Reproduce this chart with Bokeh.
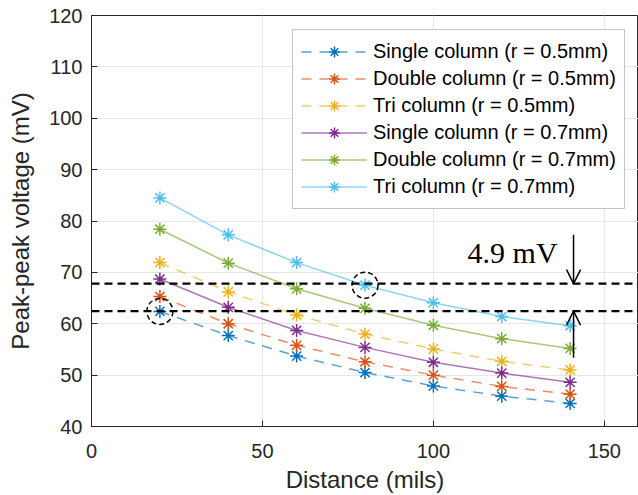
from bokeh.plotting import figure
from bokeh.models import (Legend, LegendItem, Span, Arrow, OpenHead, Label,
                          FixedTicker, Range1d)
from bokeh.embed import file_html
from bokeh.resources import INLINE

# ---- data ----
distance = [20, 40, 60, 80, 100, 120, 140]
single_05 = [62.4, 57.7, 53.7, 50.5, 47.9, 45.9, 44.5]
double_05 = [65.3, 60.0, 55.8, 52.6, 50.0, 47.8, 46.3]
tri_05 = [71.9, 66.2, 61.7, 58.0, 55.1, 52.7, 51.0]
single_07 = [68.7, 63.2, 58.7, 55.4, 52.5, 50.4, 48.6]
double_07 = [78.4, 71.8, 66.8, 63.0, 59.7, 57.1, 55.2]
tri_07 = [84.5, 77.3, 71.9, 67.5, 64.1, 61.4, 59.6]

labels = ["Single column (r = 0.5mm)", "Double column (r = 0.5mm)",
          "Tri column (r = 0.5mm)", "Single column (r = 0.7mm)",
          "Double column (r = 0.7mm)", "Tri column (r = 0.7mm)"]
series = [single_05, double_05, tri_05, single_07, double_07, tri_07]
colors = ["#0072BD", "#D95319", "#EDB120", "#7E2F8E", "#77AC30", "#4DBEEE"]
dashes = ["10 8", "10 8", "10 8", "solid", "solid", "solid"]

x_ticks = [0, 50, 100, 150]
y_ticks = [40, 50, 60, 70, 80, 90, 100, 110, 120]

ref_upper = 67.8
ref_lower = 62.45
arrow_x = 141
arrow_down_start = 77.3
arrow_up_start = 53.4
annot_text = "4.9 mV"
annot_x = 110
annot_y = 73.8

FONT = "Liberation Sans"
TXT = "#262626"

p = figure(width=638, height=495, output_backend="svg", toolbar_location=None,
           x_range=Range1d(0, 160), y_range=Range1d(40, 120),
           min_border_left=91, min_border_right=0, min_border_top=15,
           min_border_bottom=68)
p.background_fill_color = "white"
p.border_fill_color = "white"
p.outline_line_color = TXT
p.outline_line_width = 1

for ax in (p.xaxis[0], p.yaxis[0]):
    ax.axis_line_color = TXT
    ax.major_tick_line_color = TXT
    ax.major_tick_in = 6
    ax.major_tick_out = 0
    ax.minor_tick_line_color = None
    ax.major_label_text_font = FONT
    ax.major_label_text_font_size = "20px"
    ax.major_label_text_color = TXT
    ax.axis_label_text_font = FONT
    ax.axis_label_text_font_size = "24px"
    ax.axis_label_text_font_style = "normal"
    ax.axis_label_text_color = TXT

p.xaxis.ticker = FixedTicker(ticks=x_ticks)
p.yaxis.ticker = FixedTicker(ticks=y_ticks)
p.xaxis.axis_label = "Distance (mils)"
p.yaxis.axis_label = "Peak-peak voltage (mV)"
p.xaxis.major_label_standoff = 17
p.yaxis.major_label_standoff = 9
p.xaxis.axis_label_standoff = 5
p.yaxis.axis_label_standoff = 12

p.xgrid.grid_line_color = "#e6e6e6"
p.ygrid.grid_line_color = "#e6e6e6"
p.xgrid.ticker = FixedTicker(ticks=x_ticks)
p.ygrid.ticker = FixedTicker(ticks=y_ticks)

items = []
for vals, lab, col, dash in zip(series, labels, colors, dashes):
    ln = p.line(distance, vals, line_color=col, line_width=1.5, line_alpha=0.65,
                line_dash=dash)
    sc = p.scatter(distance, vals, marker="asterisk", size=13, line_color=col,
                   line_width=1.5)
    items.append(LegendItem(label=lab, renderers=[ln, sc]))

# reference lines
for yv in (ref_upper, ref_lower):
    p.add_layout(Span(location=yv, dimension="width", line_color="black",
                      line_width=2.2, line_dash="8 5"))

# dashed circles around highlighted points
p.scatter([distance[0], distance[3]], [single_05[0], tri_07[3]], marker="circle",
          size=26, fill_color=None, line_color="black", line_width=1.5,
          line_dash="5 3")

# arrows
p.add_layout(Arrow(x_start=arrow_x, y_start=arrow_down_start, x_end=arrow_x,
                   y_end=ref_upper, line_width=1.5, line_color="black",
                   end=OpenHead(size=14, line_width=1.5, line_color="black")))
p.add_layout(Arrow(x_start=arrow_x, y_start=arrow_up_start, x_end=arrow_x,
                   y_end=ref_lower, line_width=1.5, line_color="black",
                   end=OpenHead(size=14, line_width=1.5, line_color="black")))

p.add_layout(Label(x=annot_x, y=annot_y, text=annot_text,
                   text_font="Liberation Serif", text_font_size="30px",
                   text_color="black", text_baseline="alphabetic"))

legend = Legend(items=items, location=(201, 217))
legend.label_text_font = FONT
legend.label_text_font_size = "20px"
legend.label_text_color = "black"
legend.glyph_width = 66
legend.glyph_height = 27
legend.label_height = 27
legend.spacing = 0
legend.padding = 8
legend.margin = 0
legend.label_standoff = 6
legend.border_line_color = "#888888"
legend.border_line_width = 1.5
legend.background_fill_color = "white"
legend.background_fill_alpha = 1
p.add_layout(legend, "center")

open("out.html", "w").write(file_html(p, INLINE))
